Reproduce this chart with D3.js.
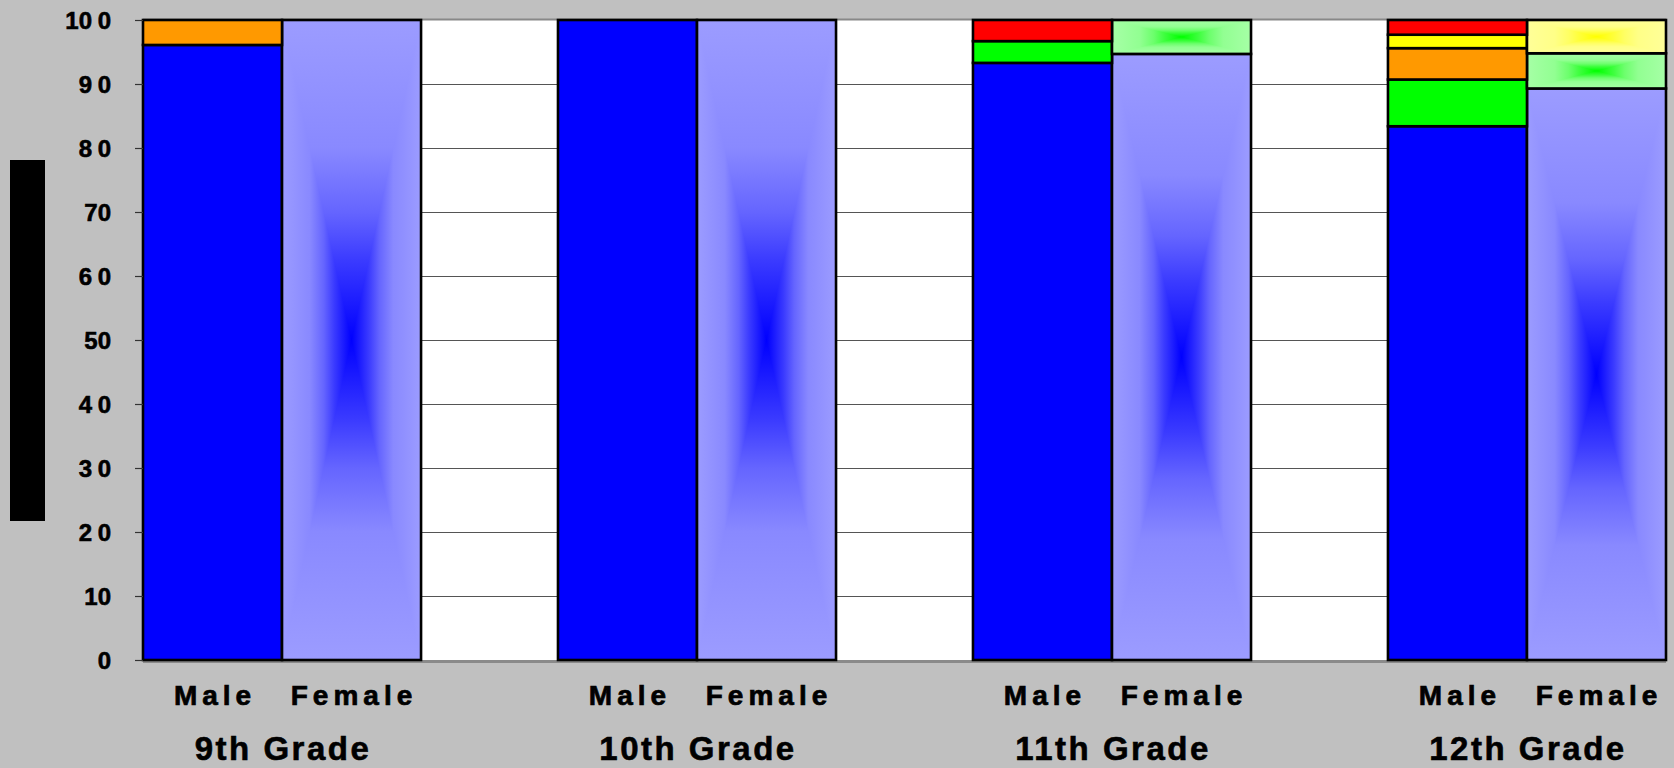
<!DOCTYPE html>
<html>
<head>
<meta charset="utf-8">
<script src="https://cdn.jsdelivr.net/npm/d3@7"></script>
<style>
  html, body { margin: 0; padding: 0; background: #C0C0C0; }
  svg { display: block; }
  text { font-family: "Liberation Sans", Arial, sans-serif; font-weight: bold; fill: #000; }
</style>
</head>
<body>
<svg id="chart" width="1674" height="768"></svg>
<script>
// ---- data ----
const grades = ["9th Grade", "10th Grade", "11th Grade", "12th Grade"];
const genders = ["Male", "Female"];
const genderLabels = ["Male", "Female"];
const seriesKeys = ["s1", "s2", "s3", "s4", "s5"]; // stacked bottom -> top
// values per bar, order: 9M, 9F, 10M, 10F, 11M, 11F, 12M, 12F
const s1Values = [96.1, 100, 100, 100, 93.3, 94.7, 83.4, 89.3]; // blue
const s2Values = [0, 0, 0, 0, 3.4, 5.3, 7.3, 5.5];            // green
const s3Values = [3.9, 0, 0, 0, 0, 0, 4.9, 0];                // orange
const s4Values = [0, 0, 0, 0, 0, 0, 2.1, 5.2];                // yellow
const s5Values = [0, 0, 0, 0, 3.3, 0, 2.3, 0];                // red
const yTicks = [0, 10, 20, 30, 40, 50, 60, 70, 80, 90, 100];
const yTickLabels = ["0", "10", "2 0", "3 0", "4 0", "50", "6 0", "70", "8 0", "9 0", "10 0"];

// ---- styles ----
const solidColors = { s1: "#0000FF", s2: "#00FF00", s3: "#FF9900", s4: "#FFFF00", s5: "#FF0000" };
const lightColors = { s1: "#9C9CFF", s2: "#A6FFA6", s3: "#FFD699", s4: "#FFFF99", s5: "#FF9999" };

const svg = d3.select("#chart");
const W = 1674, H = 768;
const plot = { left: 143, right: 1666, top: 20, bottom: 660 };

const x = d3.scaleBand().domain(grades).range([plot.left, plot.right]).paddingInner(0.33).paddingOuter(0);
const xg = d3.scaleBand().domain(genders).range([0, x.bandwidth()]).padding(0);
const y = d3.scaleLinear().domain([0, 100]).range([plot.bottom, plot.top]);

const valueArrays = { s1: s1Values, s2: s2Values, s3: s3Values, s4: s4Values, s5: s5Values };
const rows = [];
grades.forEach((g, gi) => genders.forEach((s, si) => {
  const idx = gi * 2 + si;
  const r = { grade: g, gender: s };
  seriesKeys.forEach(k => r[k] = valueArrays[k][idx]);
  rows.push(r);
}));
const stacked = d3.stack().keys(seriesKeys)(rows);

// background
svg.append("rect").attr("width", W).attr("height", H).attr("fill", "#C0C0C0");
// y-axis title placeholder (black box)
svg.append("rect").attr("x", 10).attr("y", 160).attr("width", 35).attr("height", 361).attr("fill", "#000");

// bottom axis line (gray)
svg.append("line").attr("x1", plot.left).attr("x2", plot.right)
  .attr("y1", plot.bottom + 1.5).attr("y2", plot.bottom + 1.5).attr("stroke", "#8a8a8a").attr("stroke-width", 3);

// plot area
svg.append("rect").attr("x", plot.left).attr("y", plot.top)
  .attr("width", plot.right - plot.left).attr("height", plot.bottom - plot.top).attr("fill", "#fff");

// gridlines
svg.append("g").selectAll("line").data(yTicks.filter(d => d > 0 && d < 100)).join("line")
  .attr("x1", plot.left).attr("x2", plot.right)
  .attr("y1", d => Math.round(y(d)) + 0.5).attr("y2", d => Math.round(y(d)) + 0.5)
  .attr("stroke", "#555").attr("stroke-width", 1);
// top border
svg.append("line").attr("x1", plot.left).attr("x2", plot.right)
  .attr("y1", plot.top - 0.5).attr("y2", plot.top - 0.5).attr("stroke", "#888").attr("stroke-width", 2);

// gradient helpers
const defs = svg.append("defs");
const stopsP = [0, 0.4, 0.6, 0.75, 1];
const stopsF = [0, 0.12, 0.35, 0.62, 1];
let gid = 0;
function makeGrad(key, x1, y1, x2, y2, mirror) {
  const id = "g" + (gid++);
  const lg = defs.append("linearGradient").attr("id", id).attr("gradientUnits", "userSpaceOnUse")
    .attr("x1", x1).attr("y1", y1).attr("x2", x2).attr("y2", y2);
  const interp = d3.interpolateRgb(lightColors[key], solidColors[key]);
  const pts = [];
  stopsP.forEach((p, i) => pts.push([mirror ? p / 2 : p, stopsF[i]]));
  if (mirror) for (let i = stopsP.length - 2; i >= 0; i--) pts.push([1 - stopsP[i] / 2, stopsF[i]]);
  pts.forEach(([o, f]) => lg.append("stop").attr("offset", o).attr("stop-color", interp(f)));
  return "url(#" + id + ")";
}

// bars
const barsG = svg.append("g");
stacked.forEach(layer => {
  const key = layer.key;
  layer.forEach(seg => {
    const d = seg.data;
    const v = d[key];
    if (!v) return;
    const x0 = x(d.grade) + xg(d.gender), w = xg.bandwidth();
    const yTop = y(seg[1]), yBot = y(seg[0]);
    const h = yBot - yTop;
    if (d.gender === "Male") {
      barsG.append("rect").attr("x", x0).attr("y", yTop).attr("width", w).attr("height", h)
        .attr("fill", solidColors[key]).attr("stroke", "#000").attr("stroke-width", 2.6);
    } else {
      const cx = x0 + w / 2, cy = yTop + h / 2;
      barsG.append("rect").attr("x", x0).attr("y", yTop).attr("width", w).attr("height", h)
        .attr("fill", makeGrad(key, 0, yTop, 0, yBot, true));
      barsG.append("path").attr("d", `M${x0},${yTop}L${cx},${cy}L${x0},${yBot}Z`)
        .attr("fill", makeGrad(key, x0, 0, cx, 0, false));
      barsG.append("path").attr("d", `M${x0 + w},${yTop}L${cx},${cy}L${x0 + w},${yBot}Z`)
        .attr("fill", makeGrad(key, x0 + w, 0, cx, 0, false));
      barsG.append("rect").attr("x", x0).attr("y", yTop).attr("width", w).attr("height", h)
        .attr("fill", "none").attr("stroke", "#000").attr("stroke-width", 2.6);
    }
  });
});

// y axis
const yAxis = d3.axisLeft(y).tickValues(yTicks).tickSize(8).tickPadding(24)
  .tickFormat((d, i) => yTickLabels[i]);
const ya = svg.append("g").attr("transform", `translate(${plot.left},0)`).call(yAxis);
ya.select(".domain").remove();
ya.selectAll(".tick line").attr("stroke", "#333").attr("stroke-width", 1.2);
ya.selectAll(".tick text").attr("font-size", 24).attr("font-family", "'Liberation Sans', Arial, sans-serif")
  .attr("font-weight", "bold").attr("fill", "#000")
  .attr("stroke", "#000").attr("stroke-width", 0.6)
  .style("white-space", "pre").style("word-spacing", "-1px")
  .attr("dy", "0.36em");

// gender labels
const lbl = svg.append("g");
grades.forEach(g => genders.forEach((s, si) => {
  lbl.append("text")
    .attr("x", x(g) + xg(s) + xg.bandwidth() / 2 + 2.5)
    .attr("y", 705)
    .attr("text-anchor", "middle")
    .attr("font-size", 28)
    .attr("stroke", "#000").attr("stroke-width", 0.7)
    .style("letter-spacing", "5px")
    .text(genderLabels[si]);
}));
// grade labels
grades.forEach(g => {
  lbl.append("text")
    .attr("x", x(g) + x.bandwidth() / 2 + 1)
    .attr("y", 760)
    .attr("text-anchor", "middle")
    .attr("font-size", 33)
    .attr("stroke", "#000").attr("stroke-width", 0.6)
    .style("letter-spacing", "2.5px")
    .text(g);
});
</script>
</body>
</html>
